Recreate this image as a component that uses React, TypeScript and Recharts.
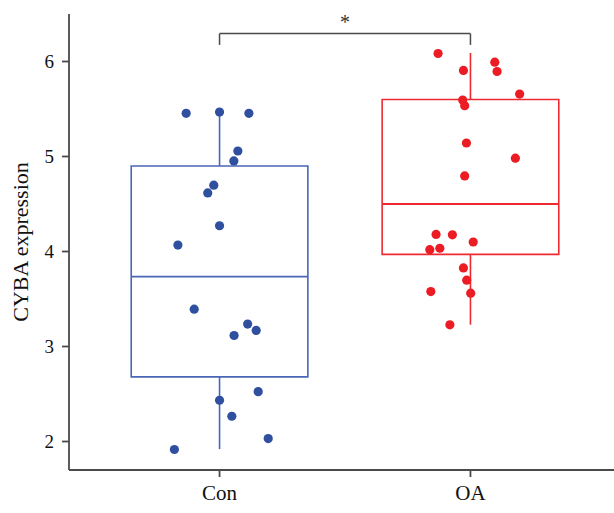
import {
  ComposedChart,
  Scatter,
  XAxis,
  YAxis,
  ReferenceArea,
  ReferenceLine,
} from "recharts";

// groups and their positions on the numeric x axis
const groups = ["Con", "OA"];
const groupPos = [1, 2];
const colors = ["#2f4f9f", "#ec1c24"];
const boxColors = ["#4a66b6", "#ee2a30"];

// box stats
const whiskerLo = [1.92, 3.23];
const q1 = [2.68, 3.97];
const median = [3.735, 4.5];
const q3 = [4.9, 5.6];
const whiskerHi = [5.47, 6.09];

// jittered points (x position, value)
const conX = [0.867, 1.0, 1.117, 1.073, 1.057, 0.977, 0.953, 1.0, 0.834, 0.899, 1.112, 1.146, 1.058, 1.154, 1.0, 1.049, 1.194, 0.82];
const conY = [5.454, 5.468, 5.454, 5.058, 4.953, 4.698, 4.617, 4.271, 4.068, 3.393, 3.236, 3.169, 3.116, 2.525, 2.434, 2.266, 2.031, 1.916];
const oaX = [1.871, 2.097, 1.972, 2.106, 2.196, 1.969, 1.977, 1.984, 2.179, 1.977, 1.863, 1.928, 2.011, 1.838, 1.878, 1.972, 1.985, 1.842, 2.001, 1.918];
const oaY = [6.084, 5.993, 5.906, 5.895, 5.657, 5.594, 5.535, 5.142, 4.982, 4.796, 4.18, 4.176, 4.1, 4.019, 4.034, 3.827, 3.698, 3.578, 3.561, 3.228];

const yTicks = [2, 3, 4, 5, 6];
const bracketTop = 6.294;
const bracketEnd = 6.175;

const conData = conX.map((x, i) => ({ x, y: conY[i] }));
const oaData = oaX.map((x, i) => ({ x, y: oaY[i] }));

const halfWidth = 0.352;
const axisColor = "#4a4a4a";
const font = "'Liberation Serif', 'Times New Roman', serif";

const dot = (fill: string) => (props: any) => (
  <circle cx={props.cx} cy={props.cy} r={4.6} fill={fill} />
);

export default function App() {
  return (
    <div style={{ position: "absolute", left: 0, top: 0, fontFamily: font }}>
      <ComposedChart
        width={622}
        height={513}
        margin={{ top: 14, right: 1, bottom: 13, left: 9 }}
      >
        <XAxis
          type="number"
          dataKey="x"
          domain={[0.4, 2.6]}
          ticks={groupPos}
          tickFormatter={(v: number) => groups[groupPos.indexOf(v)] ?? ""}
          allowDataOverflow
          height={30}
          tickSize={7}
          tickMargin={8}
          axisLine={{ stroke: axisColor, strokeWidth: 1.8 }}
          tickLine={{ stroke: axisColor, strokeWidth: 1.8 }}
          tick={{ fill: "#111", fontSize: 21, fontFamily: font }}
        />
        <YAxis
          type="number"
          dataKey="y"
          domain={[1.7, 6.5]}
          ticks={yTicks}
          allowDataOverflow
          width={60}
          tickSize={7}
          tickMargin={8}
          axisLine={{ stroke: axisColor, strokeWidth: 1.8 }}
          tickLine={{ stroke: axisColor, strokeWidth: 1.8 }}
          tick={{ fill: "#111", fontSize: 19, fontFamily: font }}
          label={{
            value: "CYBA expression",
            angle: -90,
            position: "center",
            dx: -19,
            style: { fill: "#111", fontSize: 22, fontFamily: font },
          }}
        />

        {/* boxes, medians and whiskers */}
        {groupPos.map((c, i) => (
          <ReferenceArea
            key={"box" + i}
            x1={c - halfWidth}
            x2={c + halfWidth}
            y1={q1[i]}
            y2={q3[i]}
            fill="none"
            fillOpacity={0}
            stroke={boxColors[i]}
            strokeWidth={1.6}
          />
        ))}
        {groupPos.map((c, i) => (
          <ReferenceLine
            key={"med" + i}
            segment={[
              { x: c - halfWidth, y: median[i] },
              { x: c + halfWidth, y: median[i] },
            ]}
            stroke={boxColors[i]}
            strokeWidth={1.8}
          />
        ))}
        {groupPos.map((c, i) => (
          <ReferenceLine
            key={"wlo" + i}
            segment={[
              { x: c, y: whiskerLo[i] },
              { x: c, y: q1[i] },
            ]}
            stroke={boxColors[i]}
            strokeWidth={1.6}
          />
        ))}
        {groupPos.map((c, i) => (
          <ReferenceLine
            key={"whi" + i}
            segment={[
              { x: c, y: q3[i] },
              { x: c, y: whiskerHi[i] },
            ]}
            stroke={boxColors[i]}
            strokeWidth={1.6}
          />
        ))}

        {/* significance bracket */}
        <ReferenceLine
          segment={[
            { x: groupPos[0], y: bracketEnd },
            { x: groupPos[0], y: bracketTop },
          ]}
          stroke={axisColor}
          strokeWidth={1.5}
        />
        <ReferenceLine
          segment={[
            { x: groupPos[1], y: bracketEnd },
            { x: groupPos[1], y: bracketTop },
          ]}
          stroke={axisColor}
          strokeWidth={1.5}
        />
        <ReferenceLine
          segment={[
            { x: groupPos[0], y: bracketTop },
            { x: groupPos[1], y: bracketTop },
          ]}
          stroke={axisColor}
          strokeWidth={1.5}
          label={{
            value: "*",
            position: "top",
            offset: 5,
            style: { fill: "#333", fontSize: 20, fontFamily: font },
          }}
        />

        <Scatter
          data={conData}
          dataKey="y"
          fill={colors[0]}
          shape={dot(colors[0])}
          isAnimationActive={false}
        />
        <Scatter
          data={oaData}
          dataKey="y"
          fill={colors[1]}
          shape={dot(colors[1])}
          isAnimationActive={false}
        />
      </ComposedChart>
    </div>
  );
}
